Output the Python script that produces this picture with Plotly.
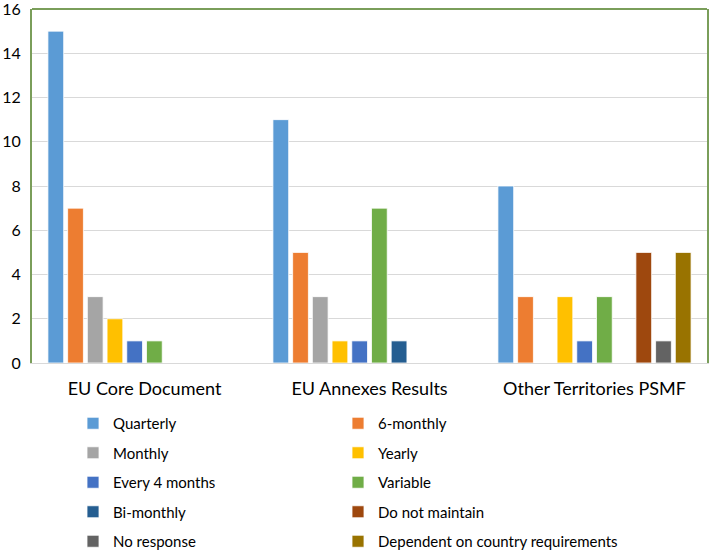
import plotly.graph_objects as go

categories = ["EU Core Document", "EU Annexes Results", "Other Territories PSMF"]
series_names = ["Quarterly", "6-monthly", "Monthly", "Yearly", "Every 4 months",
                "Variable", "Bi-monthly", "Do not maintain", "No response",
                "Dependent on country requirements"]
quarterly = [15, 11, 8]
six_monthly = [7, 5, 3]
monthly = [3, 3, 0]
yearly = [2, 1, 3]
every_4_months = [1, 1, 1]
variable = [1, 7, 3]
bi_monthly = [0, 1, 0]
do_not_maintain = [0, 0, 5]
no_response = [0, 0, 1]
dependent = [0, 0, 5]
y_ticks = [0, 2, 4, 6, 8, 10, 12, 14, 16]

values = [quarterly, six_monthly, monthly, yearly, every_4_months,
          variable, bi_monthly, do_not_maintain, no_response, dependent]
colors = ["#5B9BD5", "#ED7D31", "#A5A5A5", "#FFC000", "#4472C4",
          "#70AD47", "#255E91", "#9E480E", "#636363", "#997300"]

FONT = "Lato"
fig = go.Figure()
for i, (name, vals, col) in enumerate(zip(series_names, values, colors)):
    fig.add_trace(go.Bar(
        x=categories, y=vals, name=name,
        marker=dict(color=col, line=dict(color="white", width=0.8)),
        legend="legend" if i % 2 == 0 else "legend2",
        legendgroup=name,
    ))

leg_common = dict(xref="container", yref="container", xanchor="left", yanchor="top",
                  orientation="v", tracegroupgap=7, itemwidth=30,
                  font=dict(family=FONT, size=15, color="#000000"),
                  bgcolor="rgba(0,0,0,0)", traceorder="grouped")

fig.update_layout(
    width=709, height=551,
    margin=dict(l=32, r=2, t=9, b=188, autoexpand=False),
    paper_bgcolor="white", plot_bgcolor="white",
    barmode="group", bargap=0.124, bargroupgap=0.2,
    font=dict(family=FONT, color="#000000"),
    showlegend=True,
    legend=dict(x=73 / 709, y=1 - 407 / 551, **leg_common),
    legend2=dict(x=338 / 709, y=1 - 407 / 551, **leg_common),
    xaxis=dict(showgrid=False, showline=True, linecolor="#D9D9D9", linewidth=1,
               ticks="", tickfont=dict(family=FONT, size=18, color="#000000"),
               ticklabelstandoff=9, tickangle=0, automargin=False),
    yaxis=dict(range=[0, 16], tickvals=y_ticks, showgrid=True, gridcolor="#D9D9D9",
               gridwidth=1, zeroline=False, showline=True, linecolor="#7A9E5A",
               linewidth=2, mirror=True, ticks="",
               tickfont=dict(family=FONT, size=16, color="#000000"),
               ticklabelstandoff=6, automargin=False, ticklabeloverflow="allow"),
)
fig.add_shape(type="line", xref="paper", yref="paper", x0=0, x1=1, y0=1, y1=1,
              line=dict(color="#7A9E5A", width=2))

fig.write_html("out.html", config={"displayModeBar": False},
               post_script="document.body.style.margin='0';document.body.style.padding='0';")
